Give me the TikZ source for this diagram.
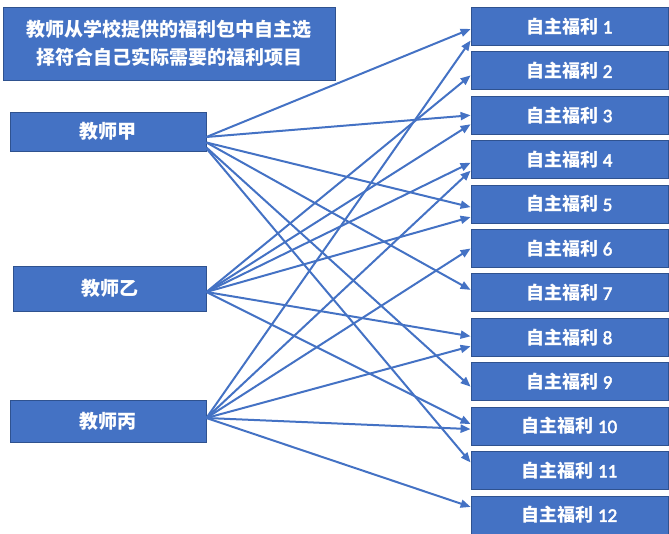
\documentclass[tikz,border=0pt]{standalone}
\usepackage{fontspec}
\usepackage{tikz}
\usetikzlibrary{arrows.meta,positioning}
\newfontfamily\cjk{Noto Sans CJK SC}
\newfontfamily\lat{Carlito}[FakeBold=2.5]
\definecolor{boxblue}{HTML}{4472C4}
\definecolor{boxedge}{HTML}{2F528F}
\definecolor{lineblue}{HTML}{4472C4}

\begin{document}
\begin{tikzpicture}[
            x=1pt, y=-1pt,
            box/.style={draw=boxedge, line width=0.8pt, fill=boxblue, text=white, inner sep=0pt, font=\cjk\bfseries\fontsize{19}{28}\selectfont},
            benefit/.style={box, minimum width=197pt, minimum height=38pt, font=\cjk\bfseries\fontsize{18}{22}\selectfont},
            link/.style={draw=lineblue, line width=2pt, -{Triangle[length=10pt,width=8pt]}}
        ]
            \useasboundingbox (0,0) rectangle (669,534);

% title
            \node[box, minimum width=332pt, minimum height=73pt, align=center] (title) at (169,43.5)
                {教师从学校提供的福利包中自主选\\择符合自己实际需要的福利项目};

% teachers
            \node[box, minimum width=196pt, minimum height=39pt] (jia) at (108,131.5) {教师甲};
            \node[box, minimum width=193pt, minimum height=45pt] (yi) at (109.5,288.5) {教师乙};
            \node[box, minimum width=196pt, minimum height=42pt] (bing) at (108,421) {教师丙};

% benefits
            \foreach \i in {1,...,12}
                \node[benefit] (w\i) at (569.5,{26.5+44.4*(\i-1)}) {自主福利 {\lat\mdseries\fontsize{19}{22}\selectfont\i}};

% links
            \foreach \src/\dst/\ys/\ye in {
                    jia/1/-5.5/-2.5, jia/3/-5.5/0, jia/5/-11/-3, jia/7/-11/3, jia/9/-16/-5, jia/11/-17/8,
                    yi/2/-3.5/-4.5, yi/3/-3.5/-9, yi/4/-3.5/-3, yi/5/-3.5/-13, yi/8/-3.5/1, yi/10/-3.5/2,
                    bing/1/3/-14, bing/4/3/-11, bing/6/3/0, bing/8/3/-9, bing/10/3/-3, bing/12/3/8}
                \draw[link] ([yshift=\ys pt]\src.east) -- ([yshift=\ye pt]w\dst.west);

        \end{tikzpicture}
\end{document}
